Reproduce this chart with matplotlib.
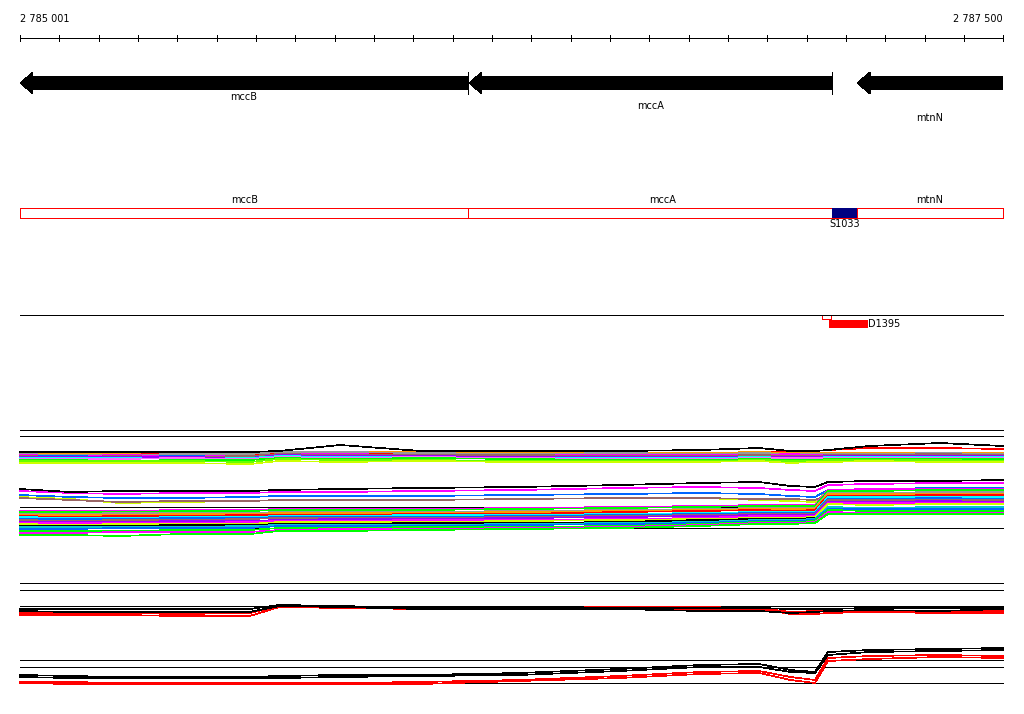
import matplotlib
matplotlib.use("Agg")
import matplotlib.pyplot as plt
import numpy as np
from matplotlib.patches import Polygon, Rectangle

plt.rcParams['font.family'] = ['DejaVu Sans']

start, end = 2785001, 2787500
start_lbl, end_lbl = "2 785 001", "2 787 500"

gene_names = ["mccB", "mccA", "mtnN"]
gene_start = [2785001, 2786142, 2787129]
gene_end = [2786140, 2787065, 2787500]

seg_bounds = [2785001, 2786141, 2787129, 2787500]
site_name = "S1033"
site_range = [2787065, 2787129]
motif_name = "D1395"
motif_small = [2787040, 2787063]
motif_big = [2787058, 2787157]

# probe positions (bp) for the expression profiles
knots = [2785001, 2785130, 2785255, 2785410, 2785585, 2785660, 2785815, 2786020, 2786270,
         2786525, 2786730, 2786880, 2786960, 2787022, 2787055, 2787160, 2787340, 2787500]

# panel 1, upper cluster
p1_a_colors = ["#ff0000", "#ff9900", "#999999", "#ff00ff", "#0066ff", "#996666", "#9900ff",
               "#00ffff", "#ff66ff", "#00ff00", "#66ff00", "#ccff00", "#000000"]
p1_a = [
    [86, 86, 87, 87, 86, 87, 87, 86, 87, 87, 87, 88, 88, 89, 90, 92, 92, 91],
    [87, 87, 87, 88, 87, 88, 88, 88, 88, 87, 87, 88, 87, 87, 87, 87, 87, 87],
    [86, 85, 85, 86, 86, 88, 88, 87, 86, 87, 86, 87, 86, 86, 86, 86, 87, 86],
    [85, 84, 85, 84, 84, 86, 86, 85, 85, 85, 85, 85, 86, 85, 85, 85, 85, 85],
    [84, 84, 83, 84, 83, 85, 85, 84, 84, 84, 84, 84, 84, 84, 84, 84, 84, 85],
    [84, 83, 84, 83, 84, 86, 85, 85, 85, 84, 84, 85, 84, 84, 85, 85, 86, 85],
    [83, 83, 83, 83, 82, 85, 84, 84, 83, 83, 83, 83, 83, 83, 84, 84, 84, 84],
    [82, 82, 82, 81, 82, 84, 83, 83, 82, 82, 82, 83, 82, 82, 83, 83, 83, 83],
    [81, 81, 81, 82, 81, 83, 82, 83, 82, 81, 81, 82, 82, 82, 82, 82, 82, 82],
    [80, 80, 79, 80, 80, 82, 81, 82, 81, 80, 80, 81, 80, 80, 81, 81, 81, 81],
    [79, 79, 79, 79, 78, 81, 80, 80, 79, 79, 79, 80, 79, 79, 80, 80, 80, 79],
    [77, 77, 77, 77, 76, 79, 78, 79, 78, 78, 78, 79, 77, 78, 78, 79, 78, 78],
    [88, 88, 88, 88, 88, 89, 95, 89, 89, 89, 90, 92, 89, 89, 90, 94, 97, 94],
]

# panel 1, middle group
p1_b_colors = ["#ccff00", "#996666", "#0066ff", "#ff00ff", "#000000"]
p1_b = [
    [43, 41, 37, 38, 39, 40, 40, 40, 41, 42, 42, 40, 39, 38, 49, 49, 50, 50],
    [42, 40, 38, 39, 39, 40, 40, 40, 41, 42, 42, 41, 41, 40, 45, 46, 46, 46],
    [45, 43, 42, 42, 43, 44, 44, 44, 45, 46, 47, 46, 44, 43, 50, 51, 52, 52],
    [49, 47, 46, 47, 47, 48, 48, 49, 50, 52, 53, 52, 50, 49, 55, 56, 57, 57],
    [51, 48, 49, 49, 49, 50, 51, 52, 53, 55, 57, 58, 54, 53, 58, 59, 59, 60],
]

# panel 1, lower cluster
p1_c_colors = ["#ff00ff", "#00ff00", "#999999", "#ff9900", "#ff0000", "#00ffff", "#0066ff",
               "#996666", "#9900ff", "#ff00ff", "#ccff00", "#000000", "#00cccc", "#0066ff",
               "#00ff00", "#ff00ff", "#00ff00"]
p1_c = [
    [29, 29, 29, 30, 30, 31, 31, 31, 32, 33, 34, 35, 35, 35, 50, 51, 51, 51],
    [28, 28, 28, 29, 29, 30, 30, 30, 31, 32, 33, 34, 34, 34, 49, 49, 50, 50],
    [26, 26, 27, 27, 27, 28, 28, 28, 29, 30, 31, 32, 32, 32, 47, 47, 48, 48],
    [25, 25, 25, 26, 26, 27, 27, 27, 28, 29, 30, 31, 31, 31, 46, 46, 46, 46],
    [24, 23, 24, 24, 25, 25, 25, 26, 26, 28, 29, 30, 29, 30, 44, 44, 45, 45],
    [23, 22, 22, 23, 23, 24, 24, 25, 25, 26, 27, 28, 28, 28, 43, 43, 43, 43],
    [21, 21, 21, 22, 22, 23, 23, 23, 24, 25, 26, 27, 27, 27, 41, 41, 42, 41],
    [20, 19, 20, 20, 21, 22, 22, 22, 23, 24, 25, 26, 26, 26, 40, 40, 40, 40],
    [18, 18, 18, 19, 19, 20, 21, 21, 22, 23, 24, 25, 25, 25, 38, 38, 39, 38],
    [17, 17, 17, 17, 18, 19, 19, 20, 20, 21, 22, 24, 24, 24, 37, 37, 37, 37],
    [16, 15, 16, 16, 16, 18, 18, 18, 19, 20, 21, 22, 22, 23, 36, 35, 36, 36],
    [14, 14, 14, 15, 15, 16, 16, 17, 17, 18, 20, 21, 21, 22, 27, 27, 27, 27],
    [13, 13, 13, 13, 14, 15, 15, 15, 16, 17, 18, 20, 20, 21, 33, 32, 33, 33],
    [11, 11, 12, 12, 12, 14, 14, 14, 15, 16, 17, 19, 19, 20, 31, 31, 31, 31],
    [9, 9, 9, 10, 10, 12, 12, 13, 13, 14, 16, 18, 18, 19, 30, 29, 29, 29],
    [7, 7, 8, 8, 8, 10, 11, 11, 12, 13, 15, 17, 17, 18, 28, 27, 27, 27],
    [5, 5, 4, 6, 6, 9, 9, 10, 11, 12, 14, 16, 16, 17, 26, 26, 26, 26],
]
p1_ref = [110, 104, 33, 12]

# panel 2
p2_colors = ["#ff0000", "#ff0000", "#000000", "#000000"]
p2_up = [
    [75, 75, 75, 74, 74, 83, 82, 81, 81, 82, 81, 81, 76, 76, 77, 78, 77, 77],
    [77, 77, 77, 76, 77, 84, 83, 82, 82, 83, 83, 82, 78, 79, 79, 79, 78, 79],
    [79, 78, 78, 78, 78, 84, 83, 81, 81, 81, 79, 79, 77, 78, 79, 80, 79, 81],
    [81, 81, 81, 81, 81, 85, 84, 82, 82, 82, 82, 82, 81, 81, 81, 82, 82, 82],
]
p2_low = [
    [7, 6, 6, 6, 6, 6, 6, 6, 9, 12, 16, 17, 10, 7, 29, 31, 33, 32],
    [8, 8, 7, 7, 7, 7, 7, 8, 10, 14, 18, 19, 13, 10, 32, 34, 35, 34],
    [13, 12, 12, 12, 12, 12, 13, 14, 15, 19, 23, 23, 18, 17, 35, 38, 39, 40],
    [15, 14, 13, 13, 13, 14, 15, 15, 17, 21, 25, 26, 20, 18, 38, 40, 41, 42],
]
p2_ref = [107, 100, 84, 30, 23, 7]

W, H = 1024, 714
fig = plt.figure(figsize=(W / 100, H / 100), dpi=100)
fig.patch.set_facecolor("white")
x0, xw = 20 / W, 983 / W
lw = 0.5
fs = 7

# annotation area: y in pixel rows
ax = fig.add_axes([x0, 1 - 360 / H, xw, 360 / H])
ax.set_xlim(start, end)
ax.set_ylim(360, 0)
ax.axis("off")

bp = (end - start) / 983.0

ax.text(start, 19, start_lbl, fontsize=fs, ha="left", va="center")
ax.text(end, 19, end_lbl, fontsize=fs, ha="right", va="center")
ax.plot([start, end], [38, 38], color="black", lw=lw, antialiased=False, clip_on=False)
for t in np.arange(start, end + 2, 100):
    ax.plot([t, t], [35, 41], color="black", lw=lw, antialiased=False, clip_on=False)

label_y = [97, 106, 118]
hl = 13 * bp
for name, s, e, ly in zip(gene_names, gene_start, gene_end, label_y):
    pts = [(s, 83), (s + hl, 72), (s + hl, 76.5), (e, 76.5), (e, 89.5), (s + hl, 89.5), (s + hl, 94)]
    ax.add_patch(Polygon(pts, closed=True, fc="black", ec="none", antialiased=False, clip_on=False))
    if e < end:
        ax.plot([e, e], [72, 94], color="black", lw=lw, antialiased=False)
    ax.text((s + e) / 2, ly, name, fontsize=fs, ha="center", va="center")

# segment track
ax.add_patch(Rectangle((start, 207.5), end - start, 10, fc="none", ec="red", lw=lw,
                       antialiased=False, clip_on=False))
ax.add_patch(Rectangle((site_range[0], 207.5), site_range[1] - site_range[0], 10,
                       fc="#000080", ec="none", antialiased=False))
for b in seg_bounds[1:3]:
    ax.plot([b, b], [207.5, 217.5], color="red", lw=lw, antialiased=False)
for name, s, e in zip(gene_names, seg_bounds[:-1], seg_bounds[1:]):
    ax.text((s + e) / 2, 200, name, fontsize=fs, ha="center", va="center")
ax.text(sum(site_range) / 2, 224, site_name, fontsize=fs, ha="center", va="center")

# motif track
ax.plot([start, end], [315, 315], color="black", lw=lw, antialiased=False, clip_on=False)
ax.add_patch(Rectangle((motif_small[0], 315), motif_small[1] - motif_small[0], 4,
                       fc="none", ec="red", lw=lw, antialiased=False))
ax.add_patch(Rectangle((motif_big[0], 320), motif_big[1] - motif_big[0], 8,
                       fc="red", ec="none", antialiased=False))
ax.text(motif_big[1], 324, motif_name, fontsize=fs, ha="left", va="center")


def panel(top, refs, groups):
    a = fig.add_axes([x0, 1 - (top + 115) / H, xw, 115 / H])
    a.set_xlim(start, end)
    a.set_ylim(0, 115)
    a.axis("off")
    for r in refs:
        a.plot([start, end], [r, r], color="black", lw=lw, antialiased=False, clip_on=False)
    for series, colors in groups:
        for vals, c in zip(series, colors):
            a.plot(knots, vals, color=c, lw=lw, antialiased=False, clip_on=False)
    return a


panel(425, p1_ref, [(p1_a, p1_a_colors), (p1_b, p1_b_colors), (p1_c, p1_c_colors)])
panel(575, p2_ref, [(p2_up, p2_colors), (p2_low, p2_colors)])

fig.savefig("out.png", dpi=100, facecolor="white")
